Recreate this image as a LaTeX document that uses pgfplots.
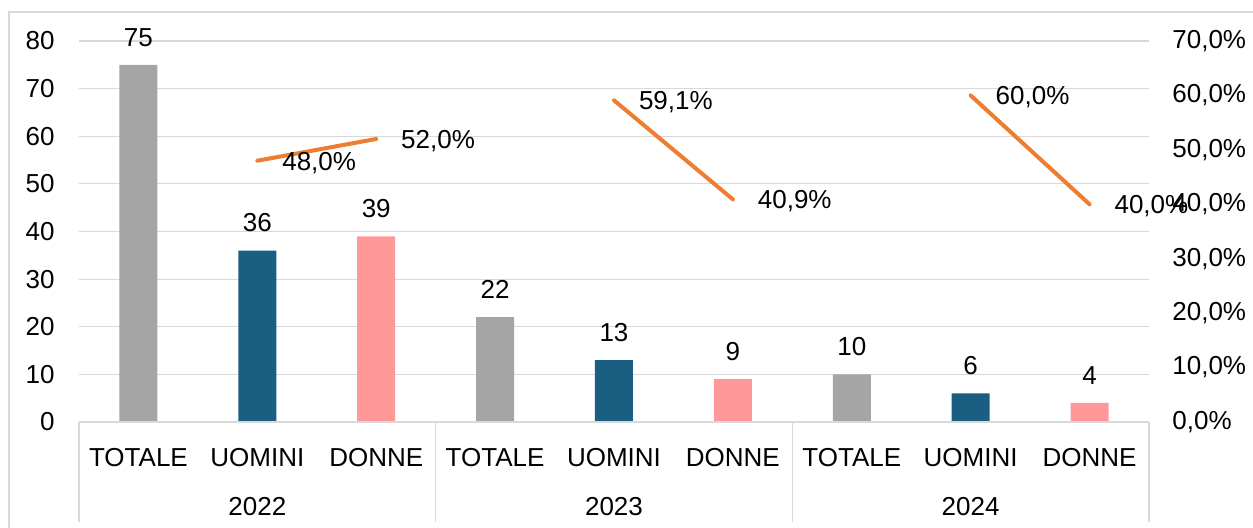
\documentclass[border=0pt]{standalone}
\usepackage{fontspec}
\setmainfont{Liberation Sans}
\usepackage{pgfplots}
\pgfplotsset{compat=1.18}
\definecolor{barGray}{HTML}{A5A5A5}
\definecolor{barBlue}{HTML}{1A5E82}
\definecolor{barPink}{HTML}{FF9999}
\definecolor{lineOrange}{HTML}{ED7D31}
\definecolor{gridGray}{HTML}{D9D9D9}
\begin{document}
\begin{tikzpicture}[font=\fontsize{13}{15}\selectfont]
\useasboundingbox (0,0) rectangle (626.5pt,264pt);
\draw[gridGray, line width=0.6pt] (4.5pt,-5pt) |- (640pt,258pt);
\pgfplotsset{
  common/.style={
    at={(39.5pt,53pt)}, anchor=south west,
    scale only axis, width=535pt, height=190.5pt,
    xmin=-0.5, xmax=8.5,
    major tick length=0pt,
    /pgf/number format/assume math mode=true,
  },
}
% bars (left axis)
\begin{axis}[
  common,
  ymin=0, ymax=80, ytick={0,10,...,80},
  ymajorgrids, grid style={gridGray, line width=0.6pt},
  axis line style={draw=none},
  xtick={0,...,8},
  xticklabels={TOTALE,UOMINI,DONNE,TOTALE,UOMINI,DONNE,TOTALE,UOMINI,DONNE},
  xticklabel style={anchor=north, inner sep=0pt, yshift=-13pt},
  yticklabel style={anchor=east, inner sep=0pt, xshift=-12pt},
  clip=false,
  nodes near coords,
  every node near coord/.append style={anchor=south, inner sep=0pt, yshift=9pt, text=black},
]
\addplot[ybar, bar width=19pt, bar shift=0pt, fill=barGray, draw=none]
  coordinates {(0,75) (3,22) (6,10)};
\addplot[ybar, bar width=19pt, bar shift=0pt, fill=barBlue, draw=none]
  coordinates {(1,36) (4,13) (7,6)};
\addplot[ybar, bar width=19pt, bar shift=0pt, fill=barPink, draw=none]
  coordinates {(2,39) (5,9) (8,4)};
\draw[gridGray, line width=0.6pt] (axis cs:-0.5,0) -- (axis cs:8.5,0);
\draw[gridGray, line width=0.6pt] (axis cs:-0.5,0) -- ([yshift=-50pt]axis cs:-0.5,0);
\draw[gridGray, line width=0.6pt] (axis cs:2.5,0) -- ([yshift=-50pt]axis cs:2.5,0);
\draw[gridGray, line width=0.6pt] (axis cs:5.5,0) -- ([yshift=-50pt]axis cs:5.5,0);
\draw[gridGray, line width=0.6pt] (axis cs:8.5,0) -- ([yshift=-50pt]axis cs:8.5,0);
\node[anchor=north, inner sep=0pt, yshift=-37.5pt] at (axis cs:1,0) {2022};
\node[anchor=north, inner sep=0pt, yshift=-37.5pt] at (axis cs:4,0) {2023};
\node[anchor=north, inner sep=0pt, yshift=-37.5pt] at (axis cs:7,0) {2024};
\end{axis}
% share line (right axis)
\begin{axis}[
  common,
  ymin=0, ymax=70, ytick={0,10,...,70},
  axis y line*=right, axis x line=none,
  y axis line style={draw=none},
  yticklabel={\pgfmathprintnumber[fixed,fixed zerofill,precision=1,use comma]{\tick}\%},
  yticklabel style={anchor=west, inner sep=0pt, xshift=11.5pt},
  clip=false,
  nodes near coords, point meta=explicit symbolic,
  every node near coord/.append style={anchor=west, inner sep=0pt, xshift=11.5pt, yshift=-1pt, text=black},
]
\addplot[lineOrange, line width=2pt, line cap=round, mark=none]
  coordinates {(1,48.0) [48,0\%] (2,52.0) [52,0\%]};
\addplot[lineOrange, line width=2pt, line cap=round, mark=none]
  coordinates {(4,59.1) [59,1\%] (5,40.9) [40,9\%]};
\addplot[lineOrange, line width=2pt, line cap=round, mark=none]
  coordinates {(7,60.0) [60,0\%] (8,40.0) [40,0\%]};
\end{axis}
\end{tikzpicture}
\end{document}
